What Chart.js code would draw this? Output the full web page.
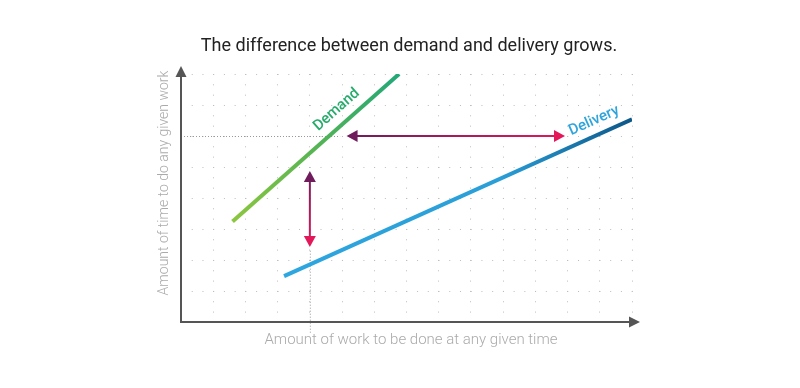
<!DOCTYPE html>
<html>
<head>
<meta charset="utf-8">
<script src="https://cdn.jsdelivr.net/npm/chart.js@4"></script>
<style>
  html, body { margin: 0; padding: 0; background: #fff; }
  #wrap { width: 800px; height: 388px; position: relative; }
</style>
</head>
<body>
<div id="wrap"><canvas id="chart"></canvas></div>
<script>
// data (x = work, y = time)
const seriesNames = ['Demand', 'Delivery'];
const demandX = [1.6, 6.77];
const demandY = [3.24, 8];
const deliveryX = [3.2, 14];
const deliveryY = [1.48, 6.54];

// gap arrows + guide lines
const gapArrowX = [5.14, 11.92];   // horizontal arrow at y = gapArrowY
const gapArrowY = 6;
const riseArrowX = 4;              // vertical arrow at x = riseArrowX
const riseArrowY = [4.87, 2.42];
const guideHX = [0, 4.94];         // dotted guide at y = gapArrowY
const guideVY = [2.3, -0.35];      // dotted guide at x = riseArrowX

const titleText = 'The difference between demand and delivery grows.';
const xTitle = 'Amount of work to be done at any given time';
const yTitle = 'Amount of time to do any given work';

function toPoints(xs, ys) {
  return xs.map((x, i) => ({ x, y: ys[i] }));
}

// gradient along a line, from first to last point
function lineGradient(ctx, xs, ys, stops) {
  const chart = ctx.chart;
  if (!chart.chartArea) return stops[0][1];
  const sx = chart.scales.x, sy = chart.scales.y;
  const g = chart.ctx.createLinearGradient(
    sx.getPixelForValue(xs[0]), sy.getPixelForValue(ys[0]),
    sx.getPixelForValue(xs[xs.length - 1]), sy.getPixelForValue(ys[ys.length - 1])
  );
  stops.forEach(s => g.addColorStop(s[0], s[1]));
  return g;
}

function arrowHead(c, x, y, ang, len, half) {
  c.beginPath();
  c.moveTo(x, y);
  c.lineTo(x - len * Math.cos(ang) + half * Math.sin(ang), y - len * Math.sin(ang) - half * Math.cos(ang));
  c.lineTo(x - len * Math.cos(ang) - half * Math.sin(ang), y - len * Math.sin(ang) + half * Math.cos(ang));
  c.closePath();
  c.fill();
}

// double arrow, c1 at start, c2 at end
function doubleArrow(c, x1, y1, x2, y2, c1, c2) {
  const ang = Math.atan2(y2 - y1, x2 - x1);
  const len = 11, half = 6;
  const g = c.createLinearGradient(x1, y1, x2, y2);
  g.addColorStop(0, c1);
  g.addColorStop(1, c2);
  c.save();
  c.strokeStyle = g;
  c.lineWidth = 2;
  c.beginPath();
  c.moveTo(x1 + Math.cos(ang) * len * 0.8, y1 + Math.sin(ang) * len * 0.8);
  c.lineTo(x2 - Math.cos(ang) * len * 0.8, y2 - Math.sin(ang) * len * 0.8);
  c.stroke();
  c.fillStyle = c1;
  arrowHead(c, x1, y1, ang + Math.PI, len, half);
  c.fillStyle = c2;
  arrowHead(c, x2, y2, ang, len, half);
  c.restore();
}

// label along a line: t = position along line, off = px above it
function lineLabel(c, chart, xs, ys, text, t, off, color) {
  const sx = chart.scales.x, sy = chart.scales.y;
  const x1 = sx.getPixelForValue(xs[0]), y1 = sy.getPixelForValue(ys[0]);
  const x2 = sx.getPixelForValue(xs[1]), y2 = sy.getPixelForValue(ys[1]);
  const ang = Math.atan2(y2 - y1, x2 - x1);
  const px = x1 + (x2 - x1) * t + Math.sin(ang) * off;
  const py = y1 + (y2 - y1) * t - Math.cos(ang) * off;
  c.save();
  c.translate(px, py);
  c.rotate(ang);
  c.fillStyle = color;
  c.font = '500 15px Roboto, "Open Sans", sans-serif';
  c.textAlign = 'center';
  c.textBaseline = 'middle';
  c.fillText(text, 0, 0);
  c.restore();
}

const decorPlugin = {
  id: 'decor',
  beforeDatasetsDraw(chart) {
    const c = chart.ctx;
    const sx = chart.scales.x, sy = chart.scales.y;
    const area = chart.chartArea;

    // dotted guides
    c.save();
    c.strokeStyle = '#999';
    c.lineWidth = 1;
    c.setLineDash([1, 2]);
    const gy = sy.getPixelForValue(gapArrowY);
    c.beginPath();
    c.moveTo(sx.getPixelForValue(guideHX[0]), gy + 0.5);
    c.lineTo(sx.getPixelForValue(guideHX[1]), gy + 0.5);
    const gx = sx.getPixelForValue(riseArrowX);
    c.moveTo(gx + 0.5, sy.getPixelForValue(guideVY[0]));
    c.lineTo(gx + 0.5, sy.getPixelForValue(guideVY[1]));
    c.stroke();
    c.restore();

    // axes with arrows
    c.save();
    c.strokeStyle = '#555';
    c.fillStyle = '#555';
    c.lineWidth = 2;
    c.beginPath();
    c.moveTo(area.left, area.top - 4);
    c.lineTo(area.left, area.bottom);
    c.lineTo(area.right + 4, area.bottom);
    c.stroke();
    arrowHead(c, area.left, area.top - 8, -Math.PI / 2, 11, 5.5);
    arrowHead(c, area.right + 8, area.bottom, 0, 11, 5.5);
    c.restore();
  },
  afterDatasetsDraw(chart) {
    const c = chart.ctx;
    const sx = chart.scales.x, sy = chart.scales.y;
    const area = chart.chartArea;

    doubleArrow(c,
      sx.getPixelForValue(gapArrowX[0]), sy.getPixelForValue(gapArrowY),
      sx.getPixelForValue(gapArrowX[1]), sy.getPixelForValue(gapArrowY),
      '#6f1b5c', '#e3185b');
    doubleArrow(c,
      sx.getPixelForValue(riseArrowX), sy.getPixelForValue(riseArrowY[0]),
      sx.getPixelForValue(riseArrowX), sy.getPixelForValue(riseArrowY[1]),
      '#6f1b5c', '#e3185b');

    lineLabel(c, chart, demandX, demandY, seriesNames[0], 0.683, 14.6, '#27ab6c');
    lineLabel(c, chart, deliveryX, deliveryY, seriesNames[1], 0.908, 14.1, '#2ea4dd');

    // titles
    c.save();
    c.textAlign = 'center';
    c.textBaseline = 'middle';
    c.fillStyle = '#222';
    c.font = '18px Roboto, "Open Sans", sans-serif';
    c.fillText(titleText, 409, 46);
    c.fillStyle = '#aaa';
    c.font = '300 15px Roboto, "Open Sans", sans-serif';
    c.fillText(xTitle, 411, area.bottom + 18);
    c.font = '300 14px Roboto, "Open Sans", sans-serif';
    c.translate(area.left - 17, 183);
    c.rotate(-Math.PI / 2);
    c.fillText(yTitle, 0, 0);
    c.restore();
  }
};

new Chart(document.getElementById('chart'), {
  type: 'scatter',
  data: {
    datasets: [
      {
        label: seriesNames[0],
        data: toPoints(demandX, demandY),
        showLine: true,
        borderWidth: 4,
        pointRadius: 0,
        borderColor: ctx => lineGradient(ctx, demandX, demandY,
          [[0, '#8dc63f'], [0.5, '#55b454'], [1, '#22a878']])
      },
      {
        label: seriesNames[1],
        data: toPoints(deliveryX, deliveryY),
        showLine: true,
        borderWidth: 4,
        pointRadius: 0,
        borderColor: ctx => lineGradient(ctx, deliveryX, deliveryY,
          [[0, '#2ea6df'], [0.62, '#2a9ed7'], [1, '#0c5788']])
      }
    ]
  },
  options: {
    responsive: true,
    maintainAspectRatio: false,
    animation: false,
    layout: { padding: { left: 181, right: 168, top: 74, bottom: 66 } },
    plugins: {
      legend: { display: false },
      tooltip: { enabled: false },
      title: { display: false }
    },
    scales: {
      x: {
        type: 'linear',
        min: 0,
        max: 14,
        ticks: { display: false, stepSize: 1 },
        grid: { color: '#bdbdbd', lineWidth: 1, drawTicks: false },
        border: { display: false, dash: [1, 9.33] },
        afterFit: s => { s.height = 0; }
      },
      y: {
        type: 'linear',
        min: 0,
        max: 8,
        ticks: { display: false, stepSize: 1 },
        grid: { color: '#bdbdbd', lineWidth: 1, drawTicks: false },
        border: { display: false, dash: [1, 9.73] },
        afterFit: s => { s.width = 0; }
      }
    }
  },
  plugins: [decorPlugin]
});
</script>
</body>
</html>
